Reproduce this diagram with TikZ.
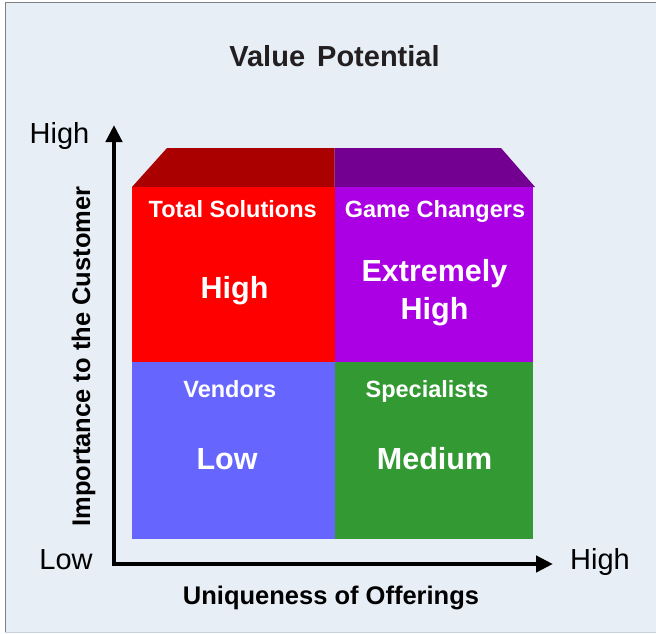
\documentclass[tikz,border=0pt]{standalone}
\usepackage{fontspec}
\setmainfont{Liberation Sans}
\usetikzlibrary{arrows.meta}
\definecolor{bgcol}{HTML}{E7EEF6}
\definecolor{framecol}{HTML}{808080}
\definecolor{framelight}{HTML}{C8D0DA}
\definecolor{redtop}{HTML}{AA0000}
\definecolor{purtop}{HTML}{730090}
\definecolor{redfront}{HTML}{FF0000}
\definecolor{purfront}{HTML}{AA00E3}
\definecolor{bluefront}{HTML}{6666FF}
\definecolor{greenfront}{HTML}{339933}
\definecolor{titlecol}{HTML}{231F20}
\tikzset{
  quadlabel/.style={text=white, font=\bfseries\fontsize{23.5}{27}\selectfont, anchor=base, inner sep=0pt},
  quadvalue/.style={text=white, font=\bfseries\fontsize{30.5}{38}\selectfont, anchor=base, inner sep=0pt, align=center},
  axislabel/.style={text=black, font=\fontsize{29}{34}\selectfont, anchor=base, inner sep=0pt},
  axistitle/.style={text=black, font=\bfseries\fontsize{25.5}{30}\selectfont, anchor=base, inner sep=0pt},
  axisline/.style={line width=4.5pt, line join=miter, {Triangle[length=17pt,width=16pt]}-{Triangle[length=17pt,width=16pt]}},
}
\begin{document}
\begin{tikzpicture}[x=1pt,y=-1pt]
\useasboundingbox (0,0) rectangle (656,634);
% frame
\fill[bgcol] (5,3) rectangle (656,632);
\draw[framecol, line width=1pt] (5,632) -- (5,3) -- (656,3);
\draw[framelight, line width=1pt] (5,632) -- (656,632);
% title
\node[text=titlecol, font=\bfseries\fontsize{29}{34}\selectfont, anchor=base, inner sep=0pt] (title) at (334.5,66.5) {Value\hspace{4pt} Potential};
% top faces
\fill[redtop] (132,187) -- (167,148) -- (334.5,148) -- (334.5,187) -- cycle;
\fill[purtop] (334.5,187) -- (334.5,148) -- (501,148) -- (535,187) -- cycle;
% front quadrants
\fill[redfront] (132,187) rectangle (335,362);
\fill[purfront] (335,187) rectangle (533,362);
\fill[bluefront] (132,362) rectangle (335,538.5);
\fill[greenfront] (335,362) rectangle (533,538.5);
% quadrant texts
\node[quadlabel] (ts) at (232.7,217.3) {Total Solutions};
\node[quadlabel] (gc) at (435,217.3) {Game Changers};
\node[quadvalue] (hv) at (234.5,298.5) {High};
\node[quadvalue, anchor=north] (eh) at (434.5,259) {Extremely\\High};
\node[quadlabel] (vd) at (229.8,397) {Vendors};
\node[quadlabel] (sp) at (427,397) {Specialists};
\node[quadvalue] (lv) at (227,469) {Low};
\node[quadvalue] (md) at (434.5,469) {Medium};
% axes
\coordinate (O) at (114,564);
\coordinate (ytip) at (114,125);
\coordinate (xtip) at (553,564);
\draw[axisline] (ytip) -- (O) -- (xtip);
\node[axislabel] (yhigh) at (59.5,143) {High};
\node[axislabel] (ylow) at (66,569) {Low};
\node[axislabel] (xhigh) at (600,569) {High};
\node[axistitle] (xt) at (331,604) {Uniqueness of Offerings};
\node[axistitle, rotate=90] (yt) at (90,356.5) {Importance to the Customer};
\end{tikzpicture}
\end{document}
